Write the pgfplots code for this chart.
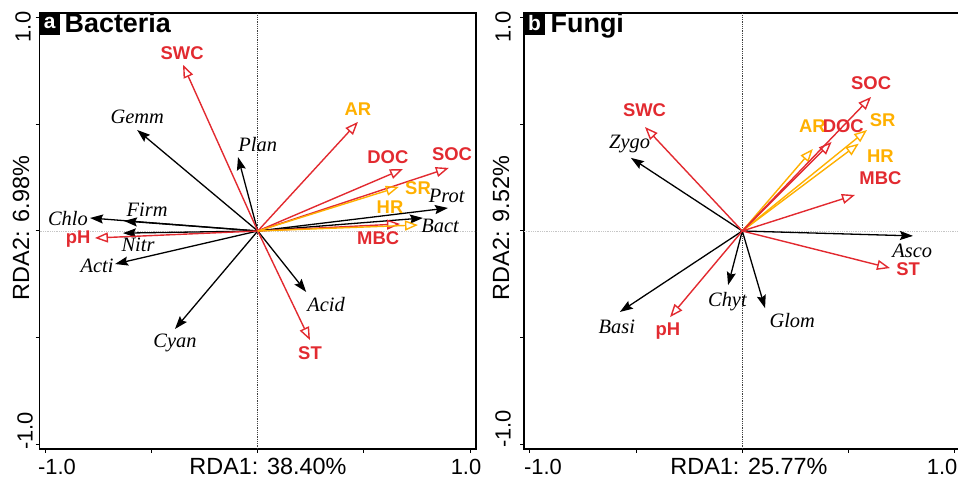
\documentclass[border=0pt]{standalone}
\usepackage{pgfplots}
\pgfplotsset{compat=1.18}
\usepackage{pgfplotstable}
\usepackage{fontspec}
\setmainfont{Liberation Sans}
\newfontfamily\serifit{Liberation Serif}
\usetikzlibrary{arrows.meta}
\definecolor{envred}{RGB}{226,42,48}
\definecolor{envorange}{RGB}{255,176,0}

% ---------- Panel a: Bacteria ----------
\pgfplotstableread{
lab x y u v
SWC 0 0 -0.352 0.780
AR  0 0 0.472 0.512
DOC 0 0 0.684 0.291
SOC 0 0 0.900 0.296
MBC 0 0 0.670 0.033
pH  0 0 -0.767 -0.033
ST  0 0 0.246 -0.512
}\bactred
\pgfplotstableread{
lab x y u v
SR 0 0 0.665 0.207
HR 0 0 0.755 0.028
}\bactorange
\pgfplotstableread{
lab x y u v
Gemm 0 0 -0.568 0.474
Plan 0 0 -0.093 0.347
Prot 0 0 0.896 0.108
Bact 0 0 0.778 0.061
Chlo 0 0 -0.790 0.061
Firm 0 0 -0.630 0.047
Nitr 0 0 -0.635 -0.010
Acti 0 0 -0.672 -0.155
Cyan 0 0 -0.390 -0.460
Acid 0 0 0.228 -0.286
}\bactblack

% ---------- Panel b: Fungi ----------
\pgfplotstableread{
lab x y u v
SWC 0 0 -0.458 0.488
SOC 0 0 0.606 0.629
DOC 0 0 0.420 0.418
MBC 0 0 0.530 0.169
ST  0 0 0.695 -0.174
pH  0 0 -0.340 -0.404
}\fungred
\pgfplotstableread{
lab x y u v
AR 0 0 0.332 0.385
SR 0 0 0.587 0.474
HR 0 0 0.548 0.410
}\fungorange
\pgfplotstableread{
lab x y u v
Zygo 0 0 -0.524 0.343
Asco 0 0 0.803 -0.023
Glom 0 0 0.107 -0.362
Chyt 0 0 -0.067 -0.254
Basi 0 0 -0.576 -0.380
}\fungblack

\newcommand{\envfont}{\fontsize{18.5}{20}\selectfont\bfseries}
\newcommand{\taxfont}{\fontsize{20.5}{22}\selectfont\serifit\itshape}
\tikzset{
  envr/.style={font=\envfont, text=envred},
  envo/.style={font=\envfont, text=envorange},
  tax/.style={font=\taxfont, text=black},
}

\pgfplotsset{
  rda/.style={
    scale only axis, height=436bp,
    ymin=-1.023, ymax=1.023,
    xtick={-1,-0.5,0,0.5,1}, ytick={-1,-0.5,0,0.5,1},
    xticklabels={}, yticklabels={},
    xtick pos=bottom, ytick pos=left,
    tick align=outside, major tick length=4bp,
    every tick/.style={black, line width=1bp},
    axis line style={line width=1.6bp},
    clip=false,
  },
  redarrow/.style={envred, line width=1.4bp,
    quiver={u=\thisrow{u}, v=\thisrow{v},
      every arrow/.append style={-{Triangle[open, length=13bp, width=10bp]}}}},
  orangearrow/.style={envorange, line width=1.4bp,
    quiver={u=\thisrow{u}, v=\thisrow{v},
      every arrow/.append style={-{Triangle[open, length=13bp, width=10bp]}}}},
  blackarrow/.style={black, line width=1.3bp,
    quiver={u=\thisrow{u}, v=\thisrow{v},
      every arrow/.append style={-{Stealth[length=13bp, width=9bp, inset=2bp]}}}},
}

\begin{document}
\begin{tikzpicture}[x=1bp, y=1bp]
\path[use as bounding box] (0,0) rectangle (958,479);

% ================= Panel a =================
\begin{axis}[rda, at={(39.5bp,30bp)}, anchor=south west,
  width=436.5bp, xmin=-1.028, xmax=1.028]
  \addplot[gray!45, densely dotted, line width=0.8bp] coordinates {(-1.028,0) (1.028,0)};
  \addplot[black!75, densely dotted, line width=0.8bp] coordinates {(0,-1.023) (0,1.023)};
  \addplot[blackarrow] table[x=x, y=y] {\bactblack};
  \addplot[redarrow] table[x=x, y=y] {\bactred};
  \addplot[orangearrow] table[x=x, y=y] {\bactorange};

  \node[envr] at (axis cs:-0.356,0.836) {SWC};
  \node[envo] at (axis cs:0.472,0.573) {AR};
  \node[envr] at (axis cs:0.613,0.347) {DOC};
  \node[envr] at (axis cs:0.915,0.361) {SOC};
  \node[envo] at (axis cs:0.755,0.202) {SR};
  \node[envo] at (axis cs:0.623,0.113) {HR};
  \node[envr] at (axis cs:0.567,-0.033) {MBC};
  \node[envr] at (axis cs:-0.846,-0.036) {pH};
  \node[envr] at (axis cs:0.246,-0.573) {ST};

  \node[tax] at (axis cs:-0.568,0.535) {Gemm};
  \node[tax] at (axis cs:0.0,0.408) {Plan};
  \node[tax] at (axis cs:0.89,0.164) {Prot};
  \node[tax] at (axis cs:0.859,0.023) {Bact};
  \node[tax] at (axis cs:-0.521,0.099) {Firm};
  \node[tax] at (axis cs:-0.894,0.058) {Chlo};
  \node[tax] at (axis cs:-0.564,-0.066) {Nitr};
  \node[tax] at (axis cs:-0.757,-0.164) {Acti};
  \node[tax] at (axis cs:-0.39,-0.526) {Cyan};
  \node[tax] at (axis cs:0.322,-0.347) {Acid};
\end{axis}

% ================= Panel b =================
\begin{axis}[rda, at={(524bp,30bp)}, anchor=south west,
  width=437bp, xmin=-1.027, xmax=1.029]
  \addplot[gray!45, densely dotted, line width=0.8bp] coordinates {(-1.027,0) (1.029,0)};
  \addplot[black!75, densely dotted, line width=0.8bp] coordinates {(0,-1.023) (0,1.023)};
  \addplot[blackarrow] table[x=x, y=y] {\fungblack};
  \addplot[orangearrow] table[x=x, y=y] {\fungorange};
  \addplot[redarrow] table[x=x, y=y] {\fungred};

  \node[envr] at (axis cs:-0.46,0.565) {SWC};
  \node[envr] at (axis cs:0.606,0.695) {SOC};
  \node[envo] at (axis cs:0.33,0.49) {AR};
  \node[envr] at (axis cs:0.475,0.49) {DOC};
  \node[envo] at (axis cs:0.66,0.52) {SR};
  \node[envo] at (axis cs:0.65,0.35) {HR};
  \node[envr] at (axis cs:0.65,0.25) {MBC};
  \node[envr] at (axis cs:0.78,-0.18) {ST};
  \node[envr] at (axis cs:-0.35,-0.47) {pH};

  \node[tax] at (axis cs:-0.53,0.41) {Zygo};
  \node[tax] at (axis cs:0.80,-0.095) {Asco};
  \node[tax] at (axis cs:-0.07,-0.33) {Chyt};
  \node[tax] at (axis cs:0.235,-0.42) {Glom};
  \node[tax] at (axis cs:-0.59,-0.45) {Basi};
\end{axis}

% ---------- panel titles ----------
\fill[black] (39.5,444) rectangle (60,466);
\node[text=white, font=\fontsize{21}{22}\selectfont\bfseries] at (49.75,456) {a};
\node[anchor=base west, font=\fontsize{27}{29}\selectfont\bfseries, inner sep=0pt] at (64.5,446) {Bacteria};
\fill[black] (524,444) rectangle (545,466);
\node[text=white, font=\fontsize{21}{22}\selectfont\bfseries] at (534.5,456) {b};
\node[anchor=base west, font=\fontsize{27}{29}\selectfont\bfseries, inner sep=0pt] at (550.5,446) {Fungi};

% ---------- tick labels ----------
\begin{scope}[every node/.style={font=\fontsize{22}{24}\selectfont, inner sep=0pt}]
  \node[anchor=base] at (57,4) {-1.0};
  \node[anchor=base] at (466,4) {1.0};
  \node[anchor=base] at (543,4) {-1.0};
  \node[anchor=base east] at (957.5,4) {1.0};
  \node[rotate=90] at (23,452) {1.0};
  \node[rotate=90] at (25,48) {-1.0};
  \node[rotate=90] at (503,452) {1.0};
  \node[rotate=90] at (503,50) {-1.0};
\end{scope}

% ---------- axis titles ----------
\begin{scope}[every node/.style={font=\fontsize{23.5}{25}\selectfont, inner sep=0pt}]
  \node[anchor=base] at (268,4) {RDA1: 38.40\%};
  \node[anchor=base] at (749,4) {RDA1: 25.77\%};
  \node[rotate=90] at (21,251) {RDA2: 6.98\%};
  \node[rotate=90] at (501,251) {RDA2: 9.52\%};
\end{scope}
\end{tikzpicture}
\end{document}
